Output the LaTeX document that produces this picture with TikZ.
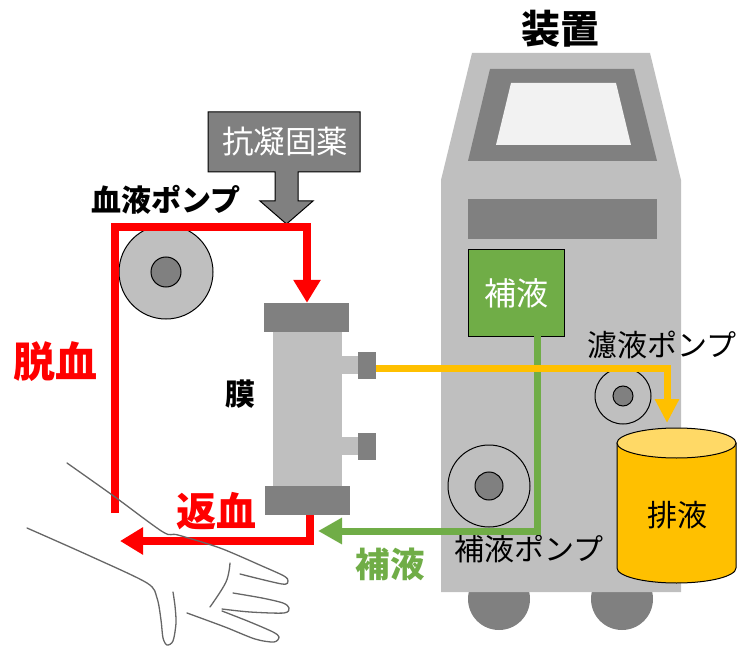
\documentclass[tikz,border=0pt]{standalone}
\usepackage{fontspec}
\setmainfont{Noto Sans CJK JP}
\usepackage{tikz}
\usetikzlibrary{positioning}
\usetikzlibrary{arrows.meta}

\definecolor{bloodred}{HTML}{FF0000}
\definecolor{subgreen}{HTML}{70AD47}
\definecolor{filtyellow}{HTML}{FFC000}
\definecolor{topyellow}{HTML}{FFD966}
\definecolor{darkpart}{HTML}{808080}
\definecolor{devgray}{HTML}{BFBFBF}
\definecolor{screen}{HTML}{F2F2F2}

\tikzset{
    label/.style={inner sep=0pt, font=\fontsize{30}{32}\selectfont},
    boldlabel/.style={label, font=\fontsize{40}{42}\selectfont\bfseries},
    capbox/.style={fill=darkpart, inner sep=0pt},
    pumpouter/.style={circle, draw=black, line width=1pt, fill=devgray, inner sep=0pt},
    pumpinner/.style={circle, draw=black, line width=1pt, fill=darkpart, inner sep=0pt},
    bloodline/.style={draw=bloodred, line width=8pt, -{Triangle[width=26pt,length=23pt]}},
    subline/.style={draw=subgreen, line width=7pt, -{Triangle[width=25pt,length=24pt]}},
    filtline/.style={draw=filtyellow, line width=7pt, -{Triangle[width=23pt,length=24pt]}},
    handline/.style={draw=black!60, line width=1.3pt, line cap=round},
}

\begin{document}
\begin{tikzpicture}[x=1pt,y=-1pt]
    \useasboundingbox (0,0) rectangle (742,655);

    % device
    \node[boldlabel, font=\fontsize{39}{41}\selectfont\bfseries] (dev) at (560,29) {装置};
    \foreach \x in {499,622}
        \fill[darkpart] (\x,599) circle (31pt);
    \fill[devgray] (472,53) -- (650,53) -- (681,180) -- (681,592)
        -- (441,592) -- (441,180) -- cycle;
    \fill[darkpart] (490,69) -- (634,69) -- (657,161) -- (468,161) -- cycle;
    \fill[screen] (511,83) -- (616,83) -- (631,145) -- (496,145) -- cycle;
    \fill[darkpart] (468,199) rectangle (657,239);

    \node[draw=black, line width=1pt, fill=subgreen, minimum width=96pt,
        minimum height=86pt, inner sep=0pt, text=white,
        font=\fontsize{32}{34}\selectfont] (sub) at (516,293) {補液};

    % pumps
    \node[pumpouter, minimum size=94pt] (bp) at (166,272) {};
    \node[pumpinner, minimum size=30pt] at (bp) {};
    \node[pumpouter, minimum size=56pt] (fp) at (623,396) {};
    \node[pumpinner, minimum size=20pt] at (fp) {};
    \node[pumpouter, minimum size=82pt] (sp) at (489,486) {};
    \node[pumpinner, minimum size=28pt] at (sp) {};

    \node[label] at (166,200) {\bfseries 血液ポンプ};
    \node[label] at (662,345) {濾液ポンプ};
    \node[label] at (529,549) {補液ポンプ};

    % drain
    \path[draw=black, line width=1pt, fill=filtyellow] (617,443) -- (617,568)
        arc[start angle=180, end angle=360, x radius=59.5pt, y radius=15pt]
        -- (736,443) -- cycle;
    \draw[line width=1pt, fill=topyellow] (676.5,443)
        ellipse[x radius=59.5pt, y radius=15pt];
    \node[label] (drain) at (677,515) {排液};

    % membrane
    \fill[devgray] (273,332) rectangle (342,486);
    \foreach \y in {365,446} {
        \fill[devgray] (342,\y-9) rectangle (358,\y+9);
        \fill[darkpart] (358,\y-13.5) rectangle (376,\y+13.5);
    }
    \node[capbox, minimum width=85pt, minimum height=29pt] (captop) at (306.5,317.5) {};
    \node[capbox, minimum width=85pt, minimum height=29pt] (capbot) at (307.5,500.5) {};
    \node[label] (mem) at (240,394) {\bfseries 膜};

    % anticoagulant
    \draw[line width=1pt, fill=darkpart] (208,112) -- (360,112) -- (360,172)
        -- (298,172) -- (298,201) -- (313,201) -- (286.5,224) -- (260,201)
        -- (275,201) -- (275,172) -- (208,172) -- cycle;
    \node[label, text=white, font=\fontsize{31.5}{33}\selectfont] (acd) at (285,142) {抗凝固薬};

    % lines
    \coordinate (vein) at (115,513);
    \coordinate (b1) at (115,227);
    \coordinate (b2) at (307,227);
    \draw[bloodline] (vein) -- (b1) -- (b2) -- (captop.north -| b2);

    \coordinate (r0) at (310,515);
    \coordinate (r1) at (120,541);
    \draw[bloodline] (r0) |- (r1);

    \coordinate (s0) at (537,336);
    \coordinate (s1) at (318,531);
    \draw[subline] (s0) |- (s1);

    \coordinate (f0) at (376,368);
    \coordinate (f1) at (667,423);
    \draw[filtline] (f0) -| (f1);

    \node[boldlabel, font=\fontsize{42}{44}\selectfont\bfseries, text=bloodred] (out) at (55,362) {脱血};
    \node[boldlabel, text=bloodred] (back) at (216,511) {返血};
    \node[boldlabel, text=subgreen, font=\fontsize{34.5}{36}\selectfont\bfseries] (subl) at (390,564) {補液};

    % arm
    \draw[handline] plot[smooth, tension=0.5] coordinates {(67,463) (115,497) (163,532)
        (178,535) (220,548) (262,566) (284,576) (288,581) (282,584) (240,574)};
    \draw[handline] plot[smooth, tension=0.5] coordinates {(233,593) (262,598) (283,603)
        (289,608) (284,613) (250,612) (222,609)};
    \draw[handline] plot[smooth, tension=0.5] coordinates {(222,611) (250,622) (273,632)
        (279,637) (274,642) (255,639) (225,627) (187,613)};
    \draw[handline] plot[smooth, tension=0.5] coordinates {(27,528) (90,556) (147,583)
        (157,598) (161,620) (163,638) (167,645) (173,641) (176,623) (175,606) (173,592)};
    \draw[handline] plot[smooth, tension=0.6] coordinates {(230,563) (226,582) (210,607)};
\end{tikzpicture}
\end{document}
